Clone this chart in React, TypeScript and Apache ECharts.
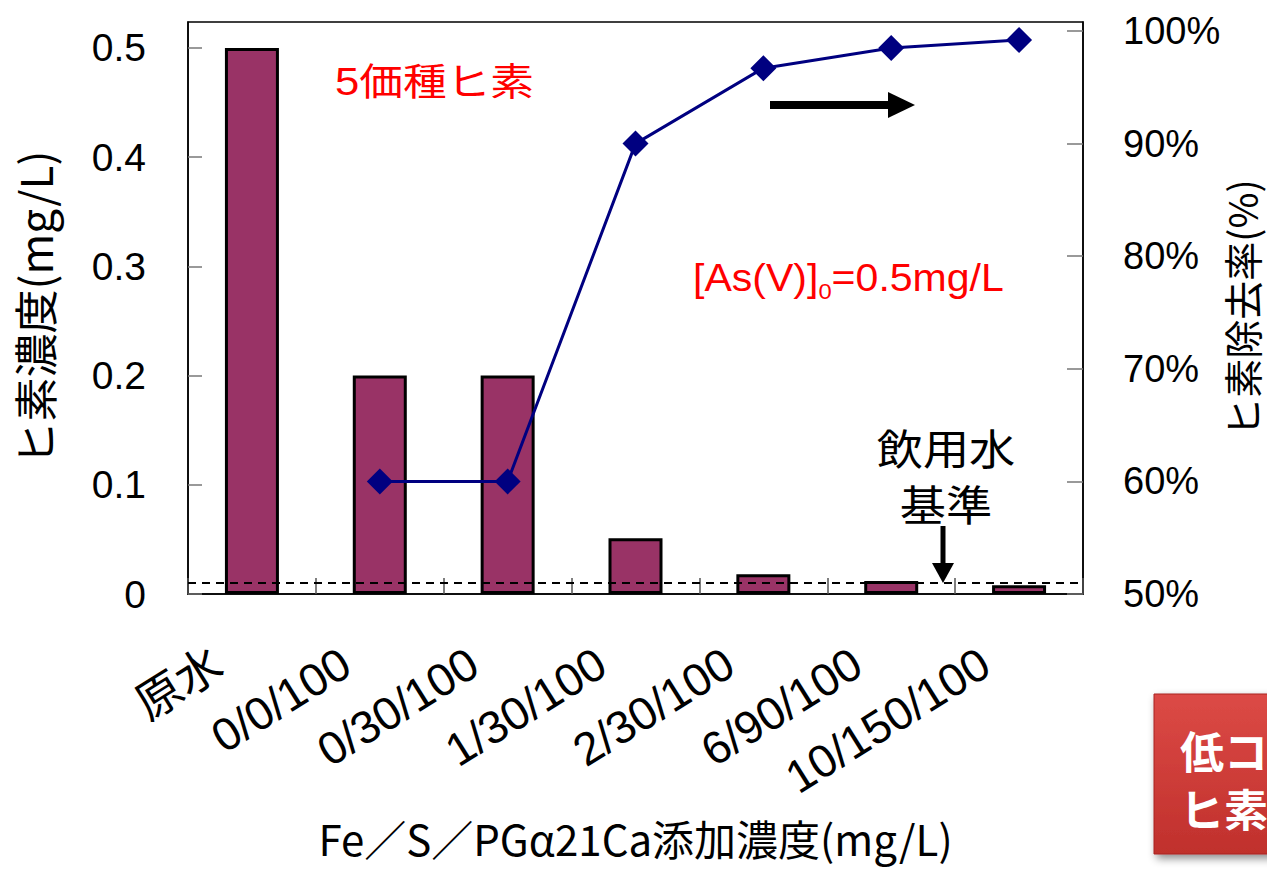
import React, { useEffect, useRef } from "react";
import * as echarts from "echarts";

const categories = ["原水", "0/0/100", "0/30/100", "1/30/100", "2/30/100", "6/90/100", "10/150/100"];
const arsenicConc = [0.5, 0.2, 0.2, 0.051, 0.018, 0.012, 0.008];
const removalRate = [null, 60, 60, 90, 96.7, 98.5, 99.2];
const standardValue = 0.01;

const JP = "'Noto Sans CJK JP', 'Noto Sans', sans-serif";
const LAT = "'Liberation Sans', 'Noto Sans CJK JP', sans-serif";

export default function App() {
  const ref = useRef<HTMLDivElement>(null);
  useEffect(() => {
    if (!ref.current) return;
    const chart = echarts.init(ref.current, null, { renderer: "svg" });
    chart.setOption({
      animation: false,
      backgroundColor: "#fff",
      textStyle: { fontFamily: JP },
      grid: {
        left: 188,
        right: 184,
        top: 22,
        bottom: 276,
        show: true,
        borderColor: "#000",
        borderWidth: 1.5,
        backgroundColor: "transparent",
        containLabel: false,
        outerBoundsMode: "none",
      },
      xAxis: {
        type: "category",
        data: categories,
        boundaryGap: true,
        axisLine: { show: true, lineStyle: { color: "#000", width: 1.5 } },
        axisTick: { show: true, inside: true, length: 16, lineStyle: { color: "#555", width: 1.5 } },
        axisLabel: {
          interval: 0,
          rotate: 32,
          margin: 44,
          padding: [0, 40, 0, 0],
          fontSize: 46,
          color: "#000",
          fontFamily: LAT,
        },
        name: "Fe／S／PGα21Ca添加濃度(mg/L)",
        nameLocation: "middle",
        nameGap: 222,
        nameMoveOverlap: false,
        nameTextStyle: { fontSize: 42, color: "#000", fontFamily: JP },
        splitLine: { show: false },
      },
      yAxis: [
        {
          type: "value",
          min: 0,
          max: 0.5238,
          interval: 0.1,
          axisLine: { show: true, lineStyle: { color: "#000", width: 1.5 } },
          axisTick: { show: true, inside: true, length: 14, lineStyle: { color: "#777", width: 1.5 } },
          axisLabel: {
            showMaxLabel: false,
            margin: 42,
            fontSize: 39,
            color: "#000",
            fontFamily: LAT,
            formatter: (v: number) => (v === 0 ? "0" : v.toFixed(1)),
          },
          splitLine: { show: false },
          name: "ヒ素濃度(mg/L)",
          nameLocation: "middle",
          nameGap: 132,
          nameMoveOverlap: false,
          nameRotate: 90,
          nameTextStyle: { fontSize: 44, color: "#000", fontFamily: JP },
        },
        {
          type: "value",
          min: 50,
          max: 100.8,
          interval: 10,
          position: "right",
          axisLine: { show: true, lineStyle: { color: "#000", width: 1.5 } },
          axisTick: { show: true, inside: true, length: 16, lineStyle: { color: "#777", width: 1.5 } },
          axisLabel: {
            showMaxLabel: false,
            margin: 40,
            fontSize: 38,
            color: "#000",
            fontFamily: LAT,
            formatter: (v: number) => Math.round(v) + "%",
          },
          splitLine: { show: false },
          name: "ヒ素除去率(%)",
          nameLocation: "middle",
          nameGap: 138,
          nameMoveOverlap: false,
          nameRotate: 90,
          nameTextStyle: { fontSize: 39, color: "#000", fontFamily: JP },
        },
      ],
      series: [
        {
          type: "bar",
          yAxisIndex: 0,
          data: arsenicConc,
          barWidth: 54,
          itemStyle: { color: "#993366", borderColor: "#000", borderWidth: 3 },
          markLine: {
            silent: true,
            symbol: "none",
            label: { show: false },
            lineStyle: { type: [8, 6], color: "#000", width: 2 },
            data: [{ yAxis: standardValue }],
          },
          z: 2,
        },
        {
          type: "line",
          yAxisIndex: 1,
          data: removalRate,
          connectNulls: false,
          symbol: "diamond",
          symbolSize: 26,
          lineStyle: { color: "#000080", width: 3 },
          itemStyle: { color: "#000080" },
          z: 3,
        },
      ],
      graphic: [
        {
          type: "text",
          x: 335,
          y: 82,
          scaleX: 1.15,
          style: { text: "5価種ヒ素", fontSize: 38, fill: "#ff0000", fontFamily: LAT, verticalAlign: "middle" },
        },
        {
          type: "text",
          x: 693,
          y: 278,
          scaleX: 1.08,
          style: {
            text: "{a|[As(V)]}{s|0}{a|=0.5mg/L}",
            verticalAlign: "middle",
            rich: {
              a: { fontSize: 38, fill: "#ff0000", fontFamily: LAT, verticalAlign: "bottom" },
              s: { fontSize: 22, fill: "#ff0000", fontFamily: LAT, verticalAlign: "bottom", padding: [0, 0, -5, 0] },
            },
          },
        },
        {
          type: "text",
          x: 946,
          y: 447,
          scaleX: 1.1,
          style: { text: "飲用水", fontSize: 42, fill: "#000", fontFamily: JP, align: "center", verticalAlign: "middle" },
        },
        {
          type: "text",
          x: 946,
          y: 503,
          scaleX: 1.1,
          style: { text: "基準", fontSize: 42, fill: "#000", fontFamily: JP, align: "center", verticalAlign: "middle" },
        },
        {
          type: "line",
          shape: { x1: 943, y1: 526, x2: 943, y2: 566 },
          style: { stroke: "#000", lineWidth: 5 },
        },
        {
          type: "polygon",
          shape: { points: [[932, 563], [954, 563], [943, 583]] },
          style: { fill: "#000" },
        },
        {
          type: "line",
          shape: { x1: 770, y1: 105, x2: 892, y2: 105 },
          style: { stroke: "#000", lineWidth: 8 },
        },
        {
          type: "polygon",
          shape: { points: [[888, 92], [915, 105], [888, 118]] },
          style: { fill: "#000" },
        },
        {
          type: "rect",
          shape: { x: 1154, y: 694, width: 200, height: 160 },
          style: {
            fill: new echarts.graphic.LinearGradient(0, 0, 0, 1, [
              { offset: 0, color: "#dc4a46" },
              { offset: 1, color: "#c0302c" },
            ]),
            stroke: "#a82520",
            lineWidth: 1,
            shadowBlur: 8,
            shadowOffsetX: 3,
            shadowOffsetY: 4,
            shadowColor: "rgba(0,0,0,0.45)",
          },
        },
        {
          type: "text",
          x: 1180,
          y: 750,
          style: { text: "低コ", fontSize: 44, fontWeight: "bold", fill: "#fff", fontFamily: JP, verticalAlign: "middle" },
        },
        {
          type: "text",
          x: 1180,
          y: 808,
          style: { text: "ヒ素", fontSize: 44, fontWeight: "bold", fill: "#fff", fontFamily: JP, verticalAlign: "middle" },
        },
      ],
    });
    return () => chart.dispose();
  }, []);
  return (
    <div
      ref={ref}
      style={{ position: "fixed", left: 0, top: 0, width: 1267, height: 870, background: "#fff" }}
    />
  );
}
